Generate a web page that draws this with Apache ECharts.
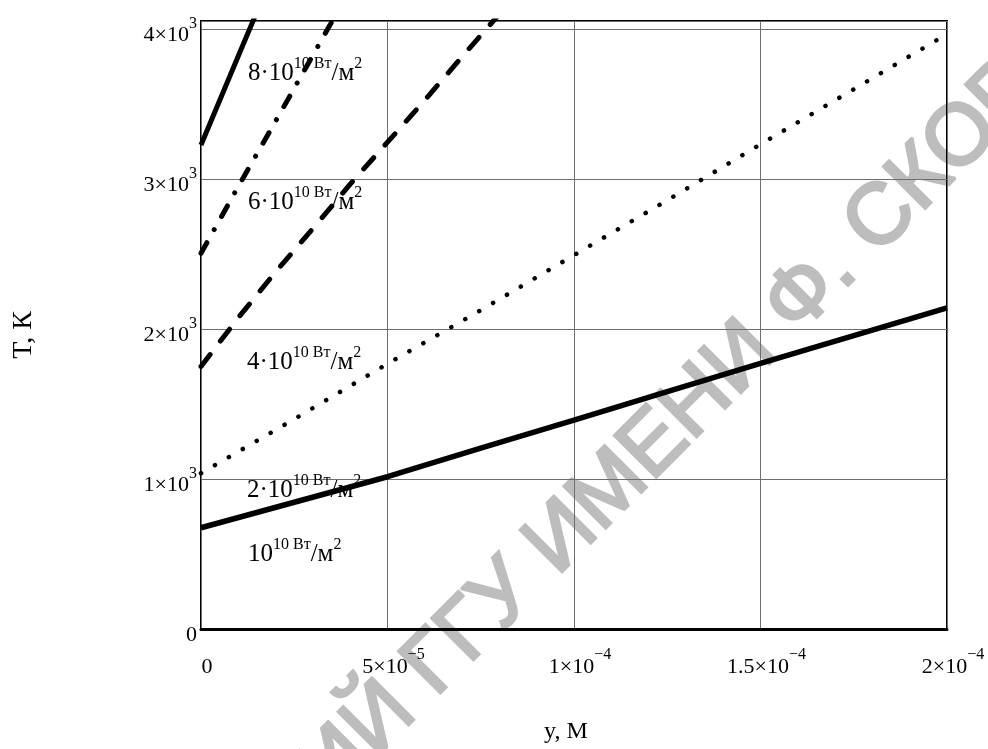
<!DOCTYPE html>
<html><head><meta charset="utf-8">
<script src="https://cdn.jsdelivr.net/npm/echarts@6/dist/echarts.min.js"></script>
<style>html,body{margin:0;padding:0;background:#fff}#c{width:988px;height:749px}</style>
</head><body><div id="c"></div>
<script>
// ---- data (y in m, T in K) ----
const q1X = [0, 2.5e-5, 5e-5, 7.5e-5, 1e-4, 1.25e-4, 1.5e-4, 1.75e-4, 2e-4];
const q1T = [675, 845, 1015, 1205, 1393, 1582, 1770, 1955, 2140];
const q2X = [0, 2.5e-5, 5e-5, 7.5e-5, 1e-4, 1.25e-4, 1.5e-4, 1.75e-4, 2e-4];
const q2T = [1038, 1399, 1768, 2125, 2492, 2858, 3231, 3598, 3966];
const q4X = [0, 1e-5, 2e-5, 3e-5, 4e-5, 5e-5, 6e-5, 7e-5, 8e-5];
const q4T = [1750, 2075, 2380, 2670, 2965, 3245, 3525, 3815, 4100];
const q6X = [0, 1e-5, 2e-5, 3e-5, 4e-5];
const q6T = [2505, 2950, 3385, 3825, 4265];
const q8X = [0, 1e-5, 2e-5];
const q8T = [3227, 3820, 4410];

const xTickValues = [0, 5e-5, 1e-4, 1.5e-4, 2e-4];
const xTickBase = ['0', '5×10', '1×10', '1.5×10', '2×10'];
const xTickExp = ['', '−5', '−4', '−4', '−4'];
const yTickValues = [0, 1000, 2000, 3000, 4000];
const yTickBase = ['0', '1×10', '2×10', '3×10', '4×10'];
const yTickExp = ['', '3', '3', '3', '3'];

const curveLabelBase = ['10', '2·10', '4·10', '6·10', '8·10'];
const curveLabelExp = ['10 Вт', '10 Вт', '10 Вт', '10 Вт', '10 Вт'];
const curveLabelUnit = ['/м', '/м', '/м', '/м', '/м'];
const curveLabelUnitExp = ['2', '2', '2', '2', '2'];

const xName = 'y, М';
const yName = 'T, К';
const watermark = 'РЕПОЗИТОРИЙ ГГУ ИМЕНИ Ф. СКОРИНЫ';

// ---- layout ----
const FONT = '"Liberation Serif", "Times New Roman", serif';
const labelPos = [[248, 552], [247, 488], [247, 360], [248, 200], [248, 71]];

function zip(xs, ys) { return xs.map((x, i) => [x, ys[i]]); }
function findIdx(arr, v) {
  for (let i = 0; i < arr.length; i++) if (Math.abs(arr[i] - v) < Math.abs(arr[1] - arr[0]) * 1e-6) return i;
  return -1;
}
function tickRich(base, exp) {
  return exp ? '{b|' + base + '}{s|' + exp + '}' : '{b|' + base + '}';
}

const chart = echarts.init(document.getElementById('c'), null, { renderer: 'canvas' });

// watermark placement (anchor: centre of the first letter of "ИМЕНИ")
const mctx = document.createElement('canvas').getContext('2d');
const WM_SIZE = 86;
mctx.font = WM_SIZE + 'px "Liberation Sans"';
const pre = mctx.measureText('РЕПОЗИТОРИЙ ГГУ ').width + mctx.measureText('И').width / 2;
const ang = Math.PI / 4;
const anchor = [562, 538];
const wmX = anchor[0] - pre * Math.cos(ang);
const wmY = anchor[1] + pre * Math.sin(ang);

const graphics = [{
  type: 'text', x: wmX, y: wmY, rotation: ang, z: 1, silent: true,
  style: {
    text: watermark, font: WM_SIZE + 'px "Liberation Sans"',
    fill: '#bdbdbd', stroke: '#bdbdbd', lineWidth: 3,
    align: 'left', verticalAlign: 'middle'
  }
}];
curveLabelBase.forEach((b, i) => {
  graphics.push({
    type: 'text', x: labelPos[i][0], y: labelPos[i][1], z: 5, silent: true,
    style: {
      text: '{b|' + b + '}{s|' + curveLabelExp[i] + '}{b|' + curveLabelUnit[i] + '}{s|' + curveLabelUnitExp[i] + '}',
      align: 'left', verticalAlign: 'middle', fill: '#000',
      rich: {
        b: { fontFamily: FONT, fontSize: 25, lineHeight: 29.5, verticalAlign: 'bottom', fill: '#000' },
        s: { fontFamily: FONT, fontSize: 16, lineHeight: 16, verticalAlign: 'top', fill: '#000' }
      }
    }
  });
});

function lineSeries(name, data, width, type) {
  return {
    name, type: 'line', data, showSymbol: false, symbol: 'none', clip: true, z: 3,
    lineStyle: Object.assign({ color: '#000', width: width }, type ? { type: type, cap: 'round' } : { cap: 'butt' }),
    animation: false
  };
}

const option = {
  animation: false,
  backgroundColor: '#fff',
  grid: { left: 201, top: 21, width: 746, height: 608, show: true, borderColor: '#000', borderWidth: 2, outerBoundsMode: 'none', containLabel: false, z: 2 },
  xAxis: {
    type: 'value', min: 0, max: 2e-4, interval: 5e-5, z: 2,
    name: xName, nameLocation: 'middle', nameGap: 91,
    nameTextStyle: { fontFamily: FONT, fontSize: 24, color: '#000', padding: [0, 16, 0, 0] },
    axisLine: { show: true, onZero: false, lineStyle: { color: '#000', width: 3 } },
    axisTick: { show: false },
    splitLine: { show: true, lineStyle: { color: '#6e6e6e', width: 1 } },
    axisLabel: {
      margin: 17.5, padding: [0, 0, 0, 12],
      formatter: v => { const i = findIdx(xTickValues, v); return i < 0 ? '' : tickRich(xTickBase[i], xTickExp[i]); },
      rich: {
        b: { fontFamily: FONT, fontSize: 22, lineHeight: 32, verticalAlign: 'bottom', color: '#000' },
        s: { fontFamily: FONT, fontSize: 16, lineHeight: 16, verticalAlign: 'top', color: '#000' }
      }
    }
  },
  yAxis: {
    type: 'value', min: 0, max: 4053, interval: 1000, z: 2,
    name: yName, nameLocation: 'middle', nameGap: 163, nameRotate: 90,
    nameTextStyle: { fontFamily: FONT, fontSize: 28, color: '#000', padding: [0, 20, 0, 0] },
    axisLine: { show: false },
    axisTick: { show: false },
    splitLine: { show: true, lineStyle: { color: '#6e6e6e', width: 1 } },
    axisLabel: {
      margin: 4, padding: [4, 0, 0, 0],
      formatter: v => { const i = findIdx(yTickValues, v); return i < 0 ? '' : tickRich(yTickBase[i], yTickExp[i]); },
      rich: {
        b: { fontFamily: FONT, fontSize: 22, lineHeight: 30, verticalAlign: 'bottom', color: '#000' },
        s: { fontFamily: FONT, fontSize: 16, lineHeight: 16, verticalAlign: 'top', color: '#000' }
      }
    }
  },
  series: [
    lineSeries('1e10', zip(q1X, q1T), 5.5, null),
    lineSeries('2e10', zip(q2X, q2T), 4.5, [0.1, 16]),
    lineSeries('4e10', zip(q4X, q4T), 5, [15, 17]),
    lineSeries('6e10', zip(q6X, q6T), 5, [12, 15, 0.1, 15]),
    lineSeries('8e10', zip(q8X, q8T), 5, null)
  ],
  graphic: graphics
};
chart.setOption(option);
</script>
</body></html>
